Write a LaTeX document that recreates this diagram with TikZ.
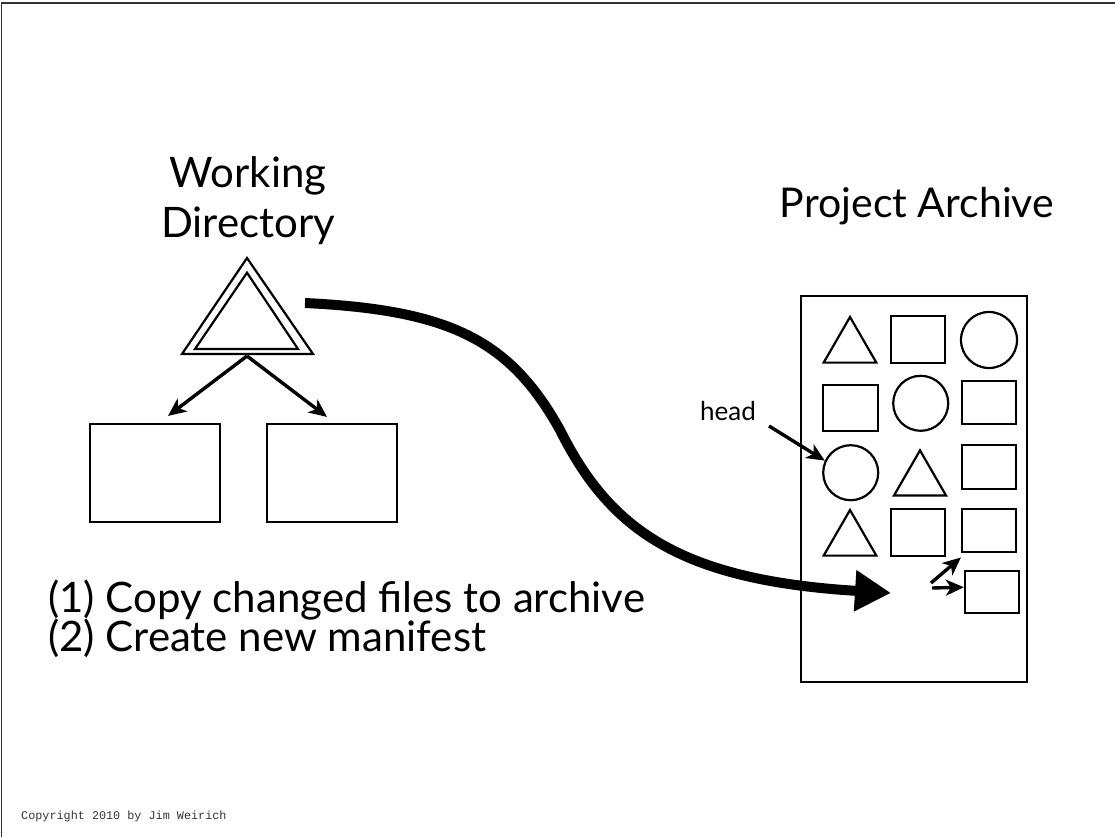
\documentclass[tikz,border=0pt]{standalone}
\usepackage{fontspec}
\setmainfont{Lato}
\newfontfamily\cpfont{Liberation Mono}
\usetikzlibrary{arrows.meta,shapes.geometric}
\definecolor{framegray}{HTML}{333333}
\begin{document}
\begin{tikzpicture}[x=1pt,y=-1pt,
  shp/.style={draw,line width=2.2pt,inner sep=0pt},
  sq/.style={shp,rectangle,minimum width=54pt,minimum height=45pt},
  crc/.style={shp,circle,minimum size=55pt},
  tri/.style={shp,regular polygon,regular polygon sides=3,minimum size=60.8pt},
  bigtxt/.style={inner sep=0pt,font=\fontsize{42}{48}\selectfont},
  thinarr/.style={line width=3.4pt,-{Stealth[length=18pt,width=16pt,inset=5pt]}},
  bigarr/.style={line width=10pt,-{Triangle[length=36pt,width=39pt]}}]
\useasboundingbox (0,0) rectangle (1115,837);
% frame
\draw[line width=1.5pt,framegray] (1.5,837) -- (1.5,3) -- (1115,3);

% working directory
\node[bigtxt,anchor=base] (wd1) at (248,187) {Working};
\node[bigtxt,anchor=base] (wd2) at (248,237) {Directory};
\draw[line width=2.2pt,line join=miter] (182,354) -- (313,354) -- (247,258) -- cycle;
\draw[line width=2.2pt,line join=miter] (195,349) -- (298,349) -- (247,272.7) -- cycle;
\coordinate (wdbase) at (247,356);
\node[shp,rectangle,minimum width=130pt,minimum height=98pt] (lbox) at (155,473) {};
\node[shp,rectangle,minimum width=130pt,minimum height=98pt] (rbox) at (332,473) {};
\draw[thinarr] (wdbase) -- ([xshift=13pt,yshift=7pt]lbox.north);
\draw[thinarr] (wdbase) -- ([xshift=-5pt,yshift=6pt]rbox.north);

% project archive
\node[bigtxt,anchor=base,font=\fontsize{41}{48}\selectfont] (pa) at (917,217) {Project Archive};
\node[draw,line width=2.2pt,minimum width=226pt,minimum height=386pt,inner sep=0pt] (arch) at (914,489) {};

\node[tri] (r1c1) at (850,347.4) {};
\node[sq,minimum height=46.7pt] (r1c2) at (918,339.3) {};
\node[crc,minimum size=56pt] (r1c3) at (989,340) {};
\node[sq,minimum width=54.7pt,minimum height=46pt] (r2c1) at (850.3,408) {};
\node[crc] (r2c2) at (920.7,403.3) {};
\node[sq,minimum height=43.6pt] (r2c3) at (989,402.5) {};
\node[crc] (r3c1) at (850.7,472.7) {};
\node[tri,minimum size=60pt] (r3c2) at (920,480.4) {};
\node[sq,minimum height=44pt] (r3c3) at (989,467) {};
\node[tri] (r4c1) at (850,540.4) {};
\node[sq,minimum height=46.7pt] (r4c2) at (918,532.3) {};
\node[sq,minimum height=43.3pt] (r4c3) at (989,530.7) {};
\node[sq,minimum width=53.7pt,minimum height=42.3pt] (r5) at (991.8,592.2) {};

% head
\node[inner sep=0pt,anchor=base west,font=\fontsize{26}{30}\selectfont] (head) at (700,420) {head};
\coordinate (headstart) at (769,426);
\draw[thinarr] (headstart) -- (r3c1.155);

% small arrows
\coordinate (sa1) at (931,583);
\coordinate (sa2) at (932,588);
\draw[thinarr] (sa1) -- ([yshift=-4pt]r4c3.south west);
\draw[thinarr] (sa2) -- ([yshift=5pt]r5.west);

% big arrow
\coordinate (bigstart) at (305,303);
\coordinate (bigend) at (891,593);
\draw[bigarr] (bigstart) .. controls (450,310) and (510,340) .. (560,430)
   .. controls (610,530) and (680,580) .. (bigend);

% steps
\node[bigtxt,anchor=base west] (l1) at (48,612) {(1) Copy changed files to archive};
\node[bigtxt,anchor=base west] (l2) at (48,651) {(2) Create new manifest};

% copyright
\node[inner sep=0pt,anchor=base west,font=\cpfont\fontsize{11.8}{14}\selectfont,text=framegray] (cp) at (21,819) {Copyright 2010 by Jim Weirich};
\end{tikzpicture}
\end{document}
